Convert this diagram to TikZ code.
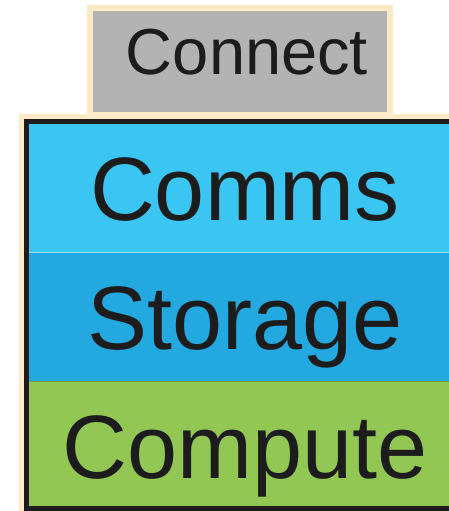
\documentclass[tikz,border=0pt]{standalone}
\usepackage{fontspec}
\setmainfont{Liberation Sans}
\usetikzlibrary{positioning}

\definecolor{cream}{HTML}{FDEBC8}
\definecolor{connectgray}{HTML}{B3B3B3}
\definecolor{commsblue}{HTML}{3BC5F2}
\definecolor{storageblue}{HTML}{23A8DF}
\definecolor{computegreen}{HTML}{93C754}
\definecolor{inkblack}{HTML}{1C1C1C}

\tikzset{
  layer/.style={rectangle, minimum width=432pt, minimum height=129pt,
    inner sep=0pt, outer sep=0pt, text=inkblack,
    font=\fontsize{90}{90}\selectfont, text height=64pt, text depth=0pt},
  connectbox/.style={rectangle, fill=connectgray, draw=cream, line width=6pt,
    minimum width=300pt, minimum height=106pt, text=inkblack,
    font=\fontsize{65}{65}\selectfont, text height=46.5pt, text depth=21pt}
}

\begin{document}
\begin{tikzpicture}[x=1pt,y=-1pt]
    \useasboundingbox (0,0) rectangle (449,511);
    \clip (0,0) rectangle (449,511);
    % outer frame of the stack
    \draw [cream, line width=15pt] (26.5,121) rectangle (463.5,508.5);
    \node [layer, fill=commsblue, anchor=north] (comms) at (245,123.5) {Comms};
    \node [layer, fill=storageblue, below=0pt of comms] (storage) {Storage};
    \node [layer, fill=computegreen, below=0pt of storage] (compute) {Compute};
    \draw [line width=1.5pt, color=commsblue!55!white] (comms.south west) -- (comms.south east);
    \draw [line width=1pt, color=computegreen!80!black] (storage.south west) -- (storage.south east);
    \draw [inkblack, line width=5pt] (26.5,121) rectangle (463.5,508.5);
    % box on top
    \node [connectbox] (connect) at (240,61.5) {\hspace{14pt}Connect};
\end{tikzpicture}
\end{document}
